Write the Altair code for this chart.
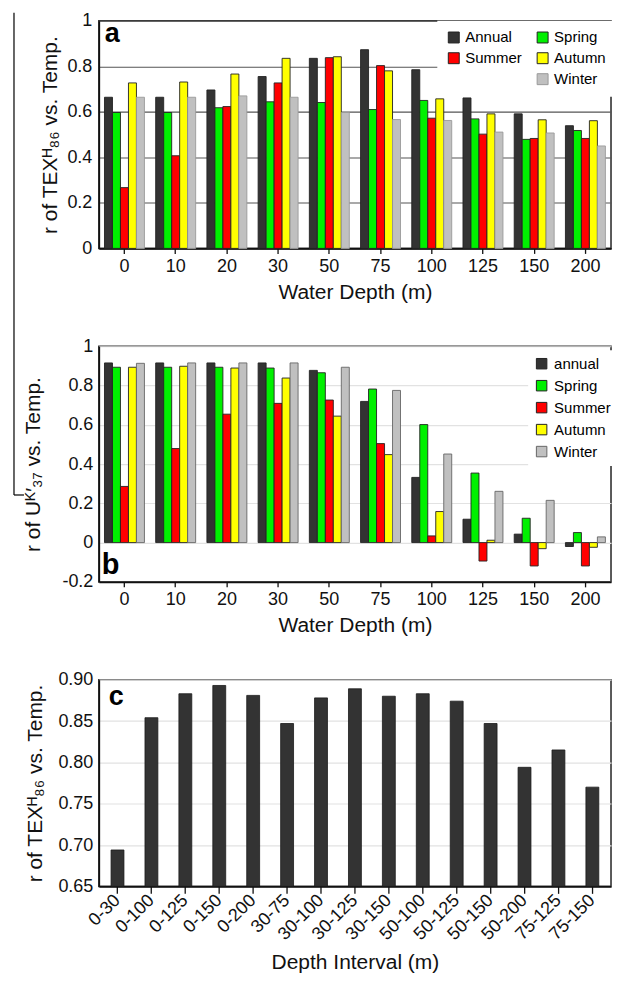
import altair as alt
import pandas as pd

FONT = "Liberation Sans"

depths = ["0", "10", "20", "30", "50", "75", "100", "125", "150", "200"]

seasons_a = ["Annual", "Spring", "Summer", "Autumn", "Winter"]
tex_annual = [0.664, 0.664, 0.696, 0.755, 0.835, 0.873, 0.785, 0.661, 0.591, 0.539]
tex_spring = [0.597, 0.597, 0.618, 0.644, 0.641, 0.610, 0.650, 0.569, 0.479, 0.518]
tex_summer = [0.267, 0.407, 0.623, 0.727, 0.838, 0.803, 0.572, 0.502, 0.483, 0.483]
tex_autumn = [0.727, 0.731, 0.766, 0.835, 0.842, 0.780, 0.657, 0.591, 0.565, 0.561]
tex_winter = [0.664, 0.664, 0.670, 0.664, 0.597, 0.566, 0.562, 0.511, 0.507, 0.450]

seasons_b = ["annual", "Spring", "Summer", "Autumn", "Winter"]
uk_annual = [0.915, 0.915, 0.915, 0.915, 0.877, 0.719, 0.332, 0.119, 0.043, -0.020]
uk_spring = [0.893, 0.893, 0.893, 0.889, 0.865, 0.782, 0.601, 0.354, 0.124, 0.051]
uk_summer = [0.286, 0.479, 0.654, 0.709, 0.726, 0.504, 0.034, -0.094, -0.119, -0.119]
uk_autumn = [0.893, 0.898, 0.889, 0.838, 0.644, 0.448, 0.158, 0.012, -0.031, -0.024]
uk_winter = [0.913, 0.915, 0.915, 0.915, 0.893, 0.775, 0.451, 0.261, 0.215, 0.029]

intervals = ["0-30", "0-100", "0-125", "0-150", "0-200", "30-75", "30-100", "30-125",
             "30-150", "50-100", "50-125", "50-150", "50-200", "75-125", "75-150"]
interval_r = [0.694, 0.854, 0.883, 0.893, 0.881, 0.847, 0.878, 0.889, 0.880, 0.883,
              0.874, 0.847, 0.794, 0.815, 0.770]

season_colors = ["#333333", "#00f000", "#ff0000", "#ffff00", "#c0c0c0"]

W = 513


def long_table(names, series):
    rows = []
    for name, vals in zip(names, series):
        for d, v in zip(depths, vals):
            rows.append({"depth": d, "series": name, "r": v})
    return pd.DataFrame(rows)


df_a = long_table(seasons_a, [tex_annual, tex_spring, tex_summer, tex_autumn, tex_winter])
df_b = long_table(seasons_b, [uk_annual, uk_spring, uk_summer, uk_autumn, uk_winter])
df_c = pd.DataFrame({"interval": intervals, "r": interval_r})
one = pd.DataFrame({"t": ["x"]})

label_expr = "toString(round(datum.value * 10) / 10)"

# ---------- panel a ----------
# legend entries fill column by column: Annual/Summer/(blank) then Spring/Autumn/Winter
legend_dom_a = ["Annual", "Summer", " ", "Spring", "Autumn", "Winter"]
fill_a = ["#333333", "#ff0000", "transparent", "#00f000", "#ffff00", "#c0c0c0"]
stroke_a = ["#222222", "#222222", "transparent", "#222222", "#222222", "#9a9a9a"]

legend_a = alt.Legend(
    title=None, orient="none", legendX=339, legendY=0, columns=2, columnPadding=13,
    rowPadding=5, padding=9, fillColor="white", labelFontSize=15, labelFont=FONT,
    symbolType="square", symbolSize=120, symbolStrokeWidth=1, labelOffset=4,
    labelColor="black",
)

bars_a = alt.Chart(df_a).mark_bar(strokeWidth=0.9).encode(
    x=alt.X("depth:N", sort=depths,
            scale=alt.Scale(paddingInner=0.22, paddingOuter=0.11),
            axis=alt.Axis(title="Water Depth (m)", labelAngle=0, ticks=True, tickSize=5,
                          labelPadding=4, titlePadding=6)),
    xOffset=alt.XOffset("series:N", sort=seasons_a,
                        scale=alt.Scale(domain=seasons_a, paddingInner=0, paddingOuter=0)),
    y=alt.Y("r:Q", scale=alt.Scale(domain=[0, 1]),
            axis=alt.Axis(title="r of TEXᴴ₈₆ vs. Temp.", values=[0, 0.2, 0.4, 0.6, 0.8, 1],
                          labelExpr=label_expr, ticks=False, labelPadding=7,
                          titlePadding=6, gridColor="#555555", gridWidth=1.1)),
    fill=alt.Fill("series:N", scale=alt.Scale(domain=legend_dom_a, range=fill_a),
                  legend=legend_a),
    stroke=alt.Stroke("series:N", scale=alt.Scale(domain=legend_dom_a, range=stroke_a),
                      legend=legend_a),
)

tag_a = alt.Chart(one).mark_text(
    font=FONT, fontSize=27, fontWeight="bold", align="left", baseline="alphabetic",
    color="black"
).encode(text=alt.value("a"), x=alt.value(6), y=alt.value(21))

# thin black border line at the far left of the original figure
edge_v = alt.Chart(one).mark_rule(color="black", strokeWidth=1.2).encode(
    x=alt.value(-85), y=alt.value(-8), y2=alt.value(475))
edge_h = alt.Chart(one).mark_rule(color="black", strokeWidth=1.2).encode(
    x=alt.value(-85), x2=alt.value(-75), y=alt.value(475))

panel_a = alt.layer(bars_a, tag_a, edge_v, edge_h).properties(width=W, height=228)

# ---------- panel b ----------
legend_b = alt.Legend(
    title=None, orient="none", legendX=430, legendY=4, columns=1,
    rowPadding=6, padding=6, fillColor="white", labelFontSize=15, labelFont=FONT,
    symbolType="square", symbolSize=110, symbolStrokeWidth=1, labelOffset=5,
    labelColor="black",
)

bars_b = alt.Chart(df_b).mark_bar(strokeWidth=0.9).encode(
    x=alt.X("depth:N", sort=depths,
            scale=alt.Scale(paddingInner=0.22, paddingOuter=0.11),
            axis=alt.Axis(title="Water Depth (m)", labelAngle=0, ticks=True, tickSize=5,
                          labelPadding=4, titlePadding=6)),
    xOffset=alt.XOffset("series:N", sort=seasons_b,
                        scale=alt.Scale(domain=seasons_b, paddingInner=0, paddingOuter=0)),
    y=alt.Y("r:Q", scale=alt.Scale(domain=[-0.2, 1]),
            axis=alt.Axis(title="r of  Uᴷ′₃₇ vs. Temp.",
                          values=[-0.2, 0, 0.2, 0.4, 0.6, 0.8, 1],
                          labelExpr=label_expr, ticks=False, labelPadding=6,
                          titlePadding=18, gridColor="#e2e2e2", gridWidth=1.2)),
    fill=alt.Fill("series:N", scale=alt.Scale(domain=seasons_b, range=season_colors),
                  legend=legend_b),
    stroke=alt.Stroke("series:N", scale=alt.Scale(domain=seasons_b,
                                                  range=["#222222"] * 4 + ["#666666"]),
                      legend=legend_b),
)

tag_b = alt.Chart(one).mark_text(
    font=FONT, fontSize=29, fontWeight="bold", align="left", baseline="alphabetic",
    color="black"
).encode(text=alt.value("b"), x=alt.value(3), y=alt.value(228))

panel_b = alt.layer(bars_b, tag_b).properties(width=W, height=236)

# ---------- panel c ----------
bars_c = alt.Chart(df_c).mark_bar(color="#333333", stroke="#1a1a1a", strokeWidth=0.8).encode(
    x=alt.X("interval:N", sort=intervals,
            scale=alt.Scale(paddingInner=0.62, paddingOuter=0.36),
            axis=alt.Axis(title="Depth Interval (m)", labelAngle=-45, labelAlign="right",
                          labelBaseline="middle", ticks=True,
                          tickSize=7, labelPadding=4, titlePadding=8)),
    y=alt.Y("r:Q", scale=alt.Scale(domain=[0.65, 0.90]),
            axis=alt.Axis(title="r of TEXᴴ₈₆ vs. Temp.",
                          values=[0.65, 0.70, 0.75, 0.80, 0.85, 0.90],
                          format=".2f", ticks=False, labelPadding=6,
                          titlePadding=12, gridColor="#e2e2e2", gridWidth=1.2)),
    y2=alt.datum(0.65),
)

tag_c = alt.Chart(one).mark_text(
    font=FONT, fontSize=27, fontWeight="bold", align="left", baseline="alphabetic",
    color="black"
).encode(text=alt.value("c"), x=alt.value(10), y=alt.value(25))

panel_c = alt.layer(bars_c, tag_c).properties(width=W, height=207)

chart = alt.vconcat(panel_a, panel_b, panel_c, spacing=98, bounds="flush").resolve_scale(
    fill="independent", stroke="independent", x="independent", y="independent",
    xOffset="independent"
).resolve_legend(fill="independent", stroke="independent").properties(
    padding={"left": 4, "top": 2, "right": 0, "bottom": 0}
).configure(
    font=FONT,
).configure_view(
    stroke="#333333", strokeWidth=1.6
).configure_axis(
    labelFont=FONT, titleFont=FONT, labelFontSize=18, titleFontSize=21,
    labelColor="#111111", titleColor="#111111", titleFontWeight="normal",
    domainColor="#111111", domainWidth=1.6, tickColor="#111111", tickWidth=1.3,
)

chart.save("out.html", embed_options={"renderer": "svg", "actions": False})
